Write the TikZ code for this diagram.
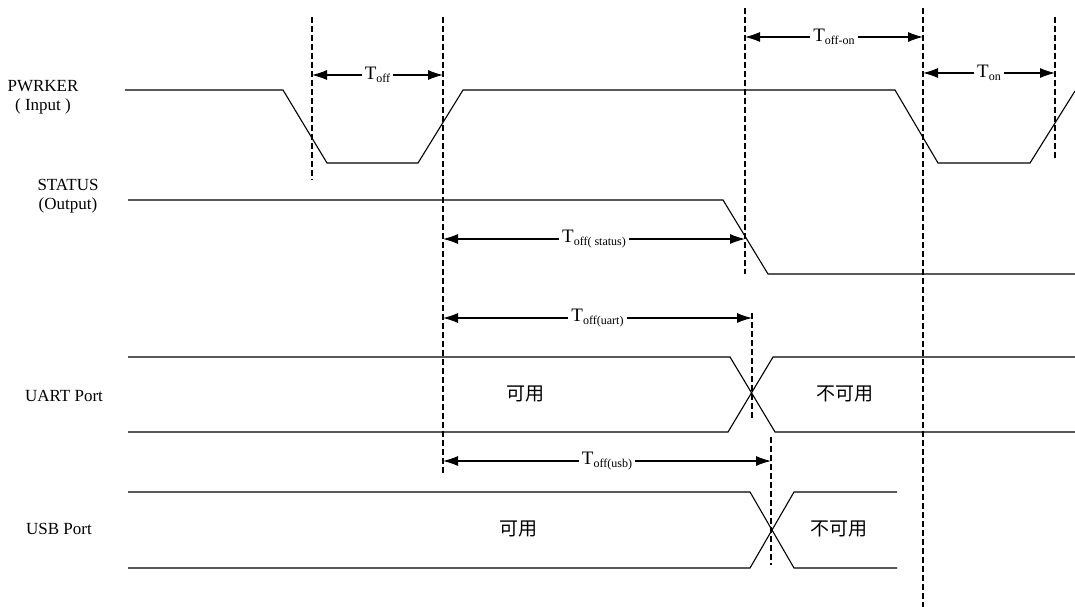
\documentclass[tikz,border=0pt]{standalone}
\usepackage{fontspec}
\setmainfont{Liberation Serif}
\newfontfamily\cjk{Noto Sans CJK SC}
\usetikzlibrary{arrows.meta, positioning, calc}
\tikzset{
    % Lines
    wave/.style={line width=1.1pt, black},
    guide/.style={line width=1.3pt, dash pattern=on 6pt off 3pt},
    dim/.style={{Latex[length=15pt,width=10pt]}-{Latex[length=15pt,width=10pt]}, line width=1.1pt},
    % Labels
    sig/.style={font=\fontsize{17}{19}\selectfont, align=center, inner sep=0pt},
    tlbl/.style={fill=white, inner sep=3pt, font=\fontsize{19}{19}\selectfont},
    state/.style={font=\cjk\fontsize{19}{19}\selectfont, inner sep=0pt}
}
\newcommand{\tsub}[1]{T\raisebox{-0.35ex}{\fontsize{12}{12}\selectfont #1}}

\begin{document}
\begin{tikzpicture}[x=1pt, y=-1pt]
\useasboundingbox (0,0) rectangle (1075,607);

% signal names
\node[sig] (pwr) at (43,97) {PWRKER\\( Input )};
\node[sig] (stat) at (68,196) {STATUS\\(Output)};
\node[sig] (uart) at (64,396) {UART Port};
\node[sig] (usb) at (59,529) {USB Port};

% guide lines
\coordinate (g1t) at (312,17);  \coordinate (g1b) at (312,180);
\coordinate (g2t) at (443,17);  \coordinate (g2b) at (443,473);
\coordinate (g3t) at (745,8);   \coordinate (g3b) at (745,274);
\coordinate (g4t) at (923,8);   \coordinate (g4b) at (923,607);
\coordinate (g5t) at (1055,17); \coordinate (g5b) at (1055,158);
\coordinate (g6t) at (752,313); \coordinate (g6b) at (752,418);
\coordinate (g7t) at (771,437); \coordinate (g7b) at (771,565);
\foreach \g in {g1,g2,g3,g4,g5,g6,g7}
    \draw[guide] (\g t) -- (\g b);

% PWRKER
\draw[wave] (125,90) -- (283,90) -- (327,163) -- (418,163) -- (463,90)
    -- (895,90) -- (938,163) -- (1030,163) -- (1075,91);

% STATUS
\draw[wave] (128,200) -- (723,200) -- (768,274) -- (1075,274);

% UART
\draw[wave] (128,357) -- (730,357) -- (775,432) -- (1075,432);
\draw[wave] (128,432) -- (728,432) -- (773,357) -- (1075,357);
\node[state] (uok) at (525,394) {可用};
\node[state] (uno) at (845,394) {不可用};

% USB
\draw[wave] (128,492) -- (750,492) -- (794,568) -- (897,568);
\draw[wave] (128,568) -- (750,568) -- (794,492) -- (897,492);
\node[state] (sok) at (518,529) {可用};
\node[state] (sno) at (839,529) {不可用};

% timings
\draw[dim] (g1t |- 0,75) -- node[tlbl] {\tsub{off}} (g2t |- 0,75);
\draw[dim] (g3t |- 0,37) -- node[tlbl] {\tsub{off-on}} (g4t |- 0,37);
\draw[dim] (g4t |- 0,73) -- node[tlbl] {\tsub{on}} (g5t |- 0,73);
\draw[dim] (g2t |- 0,239) -- node[tlbl] {\tsub{off( status)}} (g3t |- 0,239);
\draw[dim] (g2t |- 0,318) -- node[tlbl] {\tsub{off(uart)}} (g6t |- 0,318);
\draw[dim] (g2t |- 0,461) -- node[tlbl] {\tsub{off(usb)}} (g7t |- 0,461);

\end{tikzpicture}
\end{document}
